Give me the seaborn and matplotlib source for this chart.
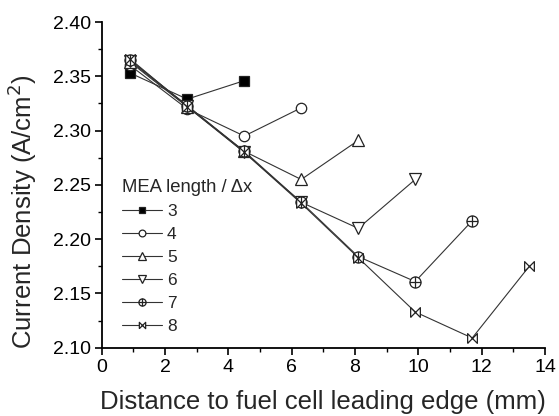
import matplotlib
matplotlib.use("Agg")
import matplotlib.pyplot as plt
import seaborn as sns
import pandas as pd
import numpy as np
from matplotlib.path import Path
from matplotlib.ticker import MultipleLocator

# Data
x_pos = [0.9, 2.7, 4.5, 6.3, 8.1, 9.9, 11.7, 13.5]
s3 = [2.353, 2.329, 2.346]
s4 = [2.360, 2.320, 2.295, 2.321]
s5 = [2.363, 2.322, 2.281, 2.255, 2.291]
s6 = [2.364, 2.323, 2.280, 2.234, 2.210, 2.255]
s7 = [2.365, 2.323, 2.281, 2.234, 2.184, 2.161, 2.217]
s8 = [2.366, 2.322, 2.280, 2.233, 2.183, 2.133, 2.109, 2.175]
labels = ["3", "4", "5", "6", "7", "8"]
series = [s3, s4, s5, s6, s7, s8]

sns.set_theme(style="ticks")
plt.rcParams['font.family'] = ['Liberation Sans', 'DejaVu Sans']

# custom markers
M, L = Path.MOVETO, Path.LINETO
oplus = Path.make_compound_path(
    Path.unit_circle(),
    Path([(-1, 0), (1, 0)], [M, L]),
    Path([(0, -1), (0, 1)], [M, L]),
)
bowtie = Path([(-1, -1), (1, 1), (1, -1), (-1, 1), (-1, -1)], [M, L, L, L, L])
markers = ["s", "o", "^", "v", oplus, bowtie]
faces = ["black", "white", "white", "white", "white", "white"]
sizes = [7, 7.5, 8, 8, 8, 7]

fig = plt.figure(figsize=(5.59, 4.16), dpi=100)
ax = fig.add_axes([0.182, 0.164, 0.793, 0.783])

for lab, vals, mk, fc, ms in zip(labels, series, markers, faces, sizes):
    df = pd.DataFrame({"x": x_pos[:len(vals)], "y": vals})
    sns.lineplot(data=df, x="x", y="y", ax=ax, color="#333333", lw=0.8,
                 marker=mk, markersize=ms, markerfacecolor=fc,
                 markeredgecolor="#222222", markeredgewidth=0.9, label=lab)

ax.set_xlim(0, 14)
ax.set_ylim(2.10, 2.40)
ax.xaxis.set_major_locator(MultipleLocator(2))
ax.xaxis.set_minor_locator(MultipleLocator(1))
ax.yaxis.set_major_locator(MultipleLocator(0.05))
ax.yaxis.set_minor_locator(MultipleLocator(0.025))
ax.yaxis.set_major_formatter(matplotlib.ticker.FormatStrFormatter("%.2f"))
ax.tick_params(axis="both", which="major", direction="out", length=5, width=1.2,
               labelsize=14, color="black", labelcolor="black", pad=3)
ax.tick_params(axis="both", which="minor", direction="out", length=3, width=1, color="black")
for s in ["left", "bottom"]:
    ax.spines[s].set_linewidth(1.3)
    ax.spines[s].set_color("black")
sns.despine(ax=ax)

ax.set_xlabel("Distance to fuel cell leading edge (mm)", fontsize=18.5, labelpad=10)
ax.set_ylabel("Current Density (A/cm$^2$)", fontsize=18.5)
ax.yaxis.set_label_coords(-0.142, 0.417)

h, l = ax.get_legend_handles_labels()
leg = ax.legend(h, l, title="MEA length / \u0394x", loc="upper left",
                bbox_to_anchor=(0.03, 0.54), frameon=False, fontsize=12.5,
                title_fontsize=13.3, handlelength=2.3, labelspacing=0.45,
                handletextpad=0.3, borderaxespad=0, markerscale=0.65)
leg._legend_box.align = "left"

fig.savefig("out.png", dpi=100)
